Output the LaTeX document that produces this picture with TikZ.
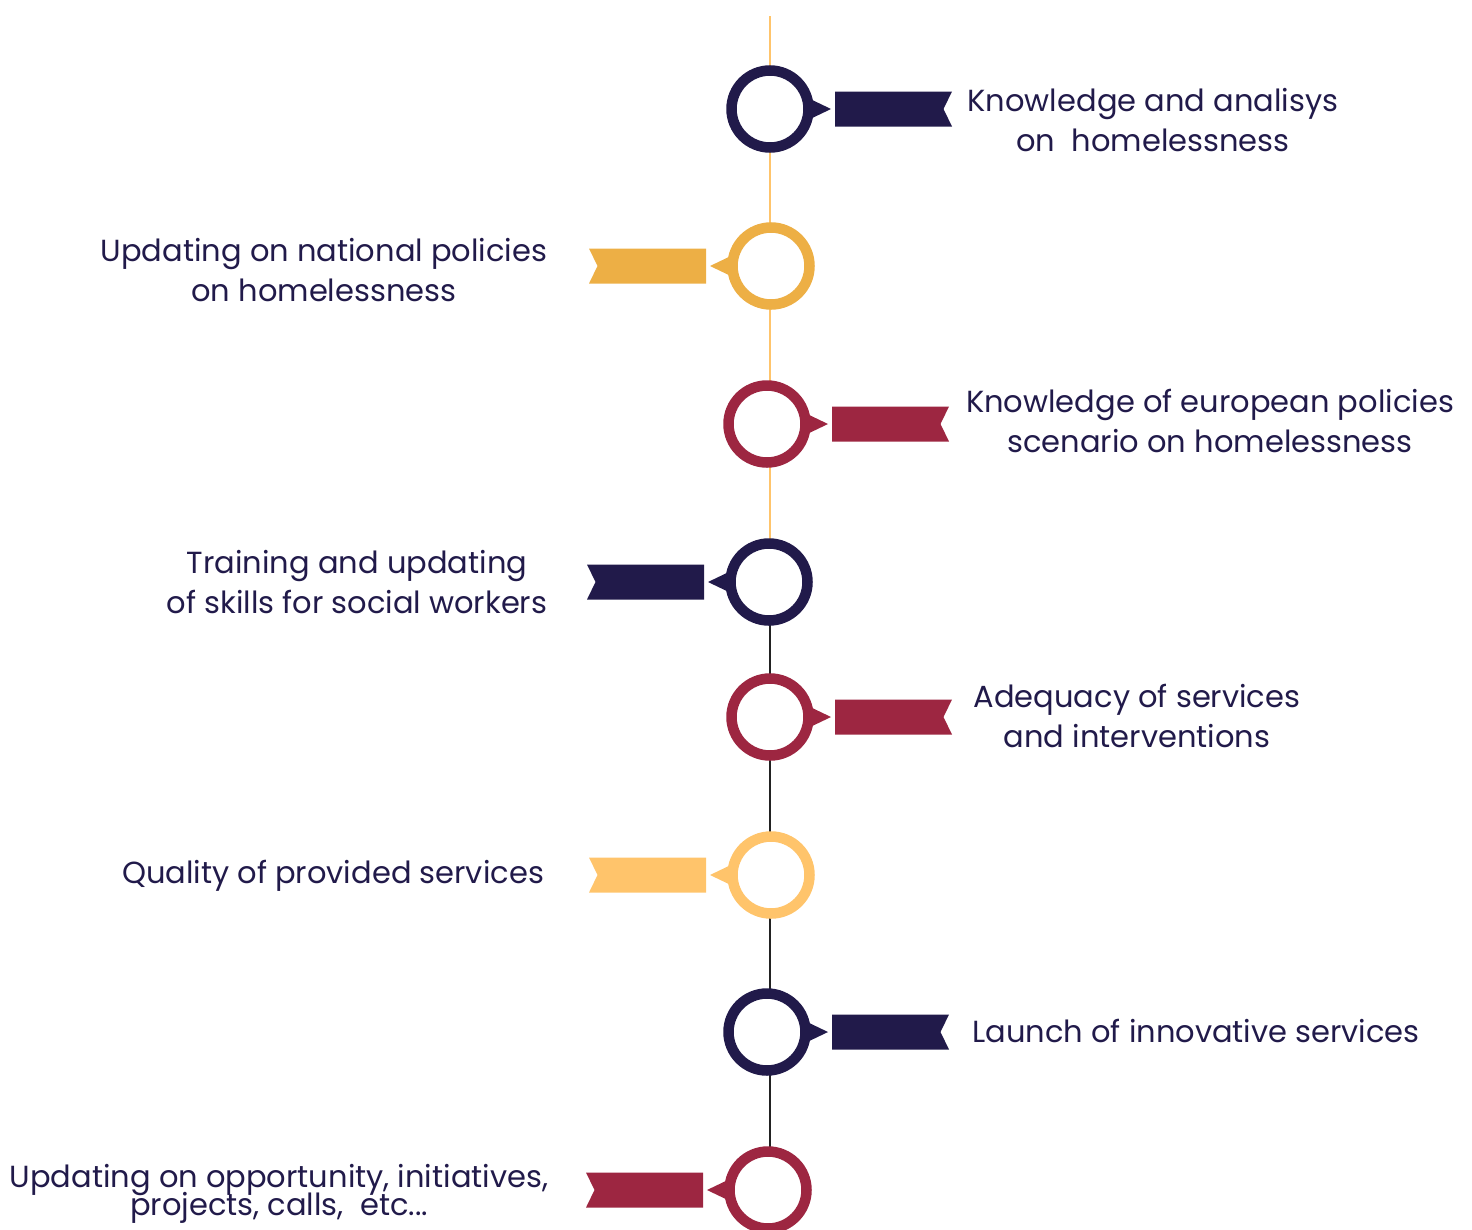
\documentclass[tikz,border=0pt]{standalone}
\usepackage{fontspec}
\setmainfont{Poppins}
\usetikzlibrary{calc,backgrounds}
\definecolor{navy}{HTML}{211A4A}
\definecolor{gold}{HTML}{EDAF45}
\definecolor{crimson}{HTML}{9D2641}
\definecolor{lightgold}{HTML}{FFC46B}
\definecolor{spineyellow}{HTML}{FFC46B}
\definecolor{spineblack}{HTML}{222222}
\newcommand{\tightlines}{\lineskiplimit=-30pt\relax\lineskip=0pt\relax}
\begin{document}
\begin{tikzpicture}[x=1pt,y=-1pt,
  ring/.style={circle,draw=#1,line width=10.5pt,minimum size=77pt,inner sep=0pt,fill=white},
  spine/.style={line width=2pt,draw=#1},
  lbl/.style={text=navy,font=\fontsize{30.5}{40}\selectfont,align=center,inner sep=0pt},
]
\useasboundingbox (0,0) rectangle (1472,1229);

% ---------- spine coordinate ----------
\coordinate (top) at (770,16);

% ---------- rings ----------
\node[ring=navy]      (c1) at (770,109)  {};
\node[ring=gold]      (c2) at (771,266)  {};
\node[ring=crimson]   (c3) at (767,424)  {};
\node[ring=navy]      (c4) at (769,582)  {};
\node[ring=crimson]   (c5) at (770,717)  {};
\node[ring=lightgold] (c6) at (771,875)  {};
\node[ring=navy]      (c7) at (767,1032) {};
\node[ring=crimson]   (c8) at (768,1190) {};

% ---------- spine (behind the rings) ----------
\begin{scope}[on background layer]
\draw[spine=spineyellow] (top) -- (top |- c4);
\draw[spine=spineblack] (top |- c4) -- (top |- c8);
\end{scope}

% ---------- pointers (right side) ----------
\foreach \c/\col in {c1/navy,c3/crimson,c5/crimson,c7/navy}{
  \fill[\col] ($(\c)+(36,-12)$) -- ($(\c)+(61,0)$) -- ($(\c)+(36,12)$) -- cycle;
}
% ---------- pointers (left side) ----------
\foreach \c/\col in {c2/gold,c4/navy,c6/lightgold,c8/crimson}{
  \fill[\col] ($(\c)+(-36,-12)$) -- ($(\c)+(-61,0)$) -- ($(\c)+(-36,12)$) -- cycle;
}

% ---------- ribbons (right side, notch at right) ----------
\foreach \c/\col in {c1/navy,c3/crimson,c5/crimson,c7/navy}{
  \fill[\col] ($(\c)+(65,-17.5)$) -- ($(\c)+(182,-17.5)$) -- ($(\c)+(173.5,0)$)
     -- ($(\c)+(182,17.5)$) -- ($(\c)+(65,17.5)$) -- cycle;
}
% ---------- ribbons (left side, notch at left) ----------
\foreach \c/\col in {c2/gold,c4/navy,c6/lightgold,c8/crimson}{
  \fill[\col] ($(\c)+(-65,-17.5)$) -- ($(\c)+(-182,-17.5)$) -- ($(\c)+(-173.5,0)$)
     -- ($(\c)+(-182,17.5)$) -- ($(\c)+(-65,17.5)$) -- cycle;
}

% ---------- labels ----------
\node[lbl] (t1) at (1153,120) {Knowledge and analisys\\on\ \ homelessness};
\node[lbl] (t2) at (324,270)  {Updating on national policies\\on homelessness};
\node[lbl] (t3) at (1210,421) {Knowledge of european policies\\scenario on homelessness};
\node[lbl] (t4) at (357,582)  {Training and updating\\of skills for social workers};
\node[lbl] (t5) at (1137,716) {Adequacy of services\\and interventions};
\node[lbl] (t6) at (333,876)  {Quality of provided services};
\node[lbl] (t7) at (1196,1031){Launch of innovative services};
\node[lbl,font=\fontsize{30.5}{28}\selectfont\tightlines] (t8) at (279,1194) {Updating on opportunity, initiatives,\\projects, calls,\ \ etc...};
\end{tikzpicture}
\end{document}
